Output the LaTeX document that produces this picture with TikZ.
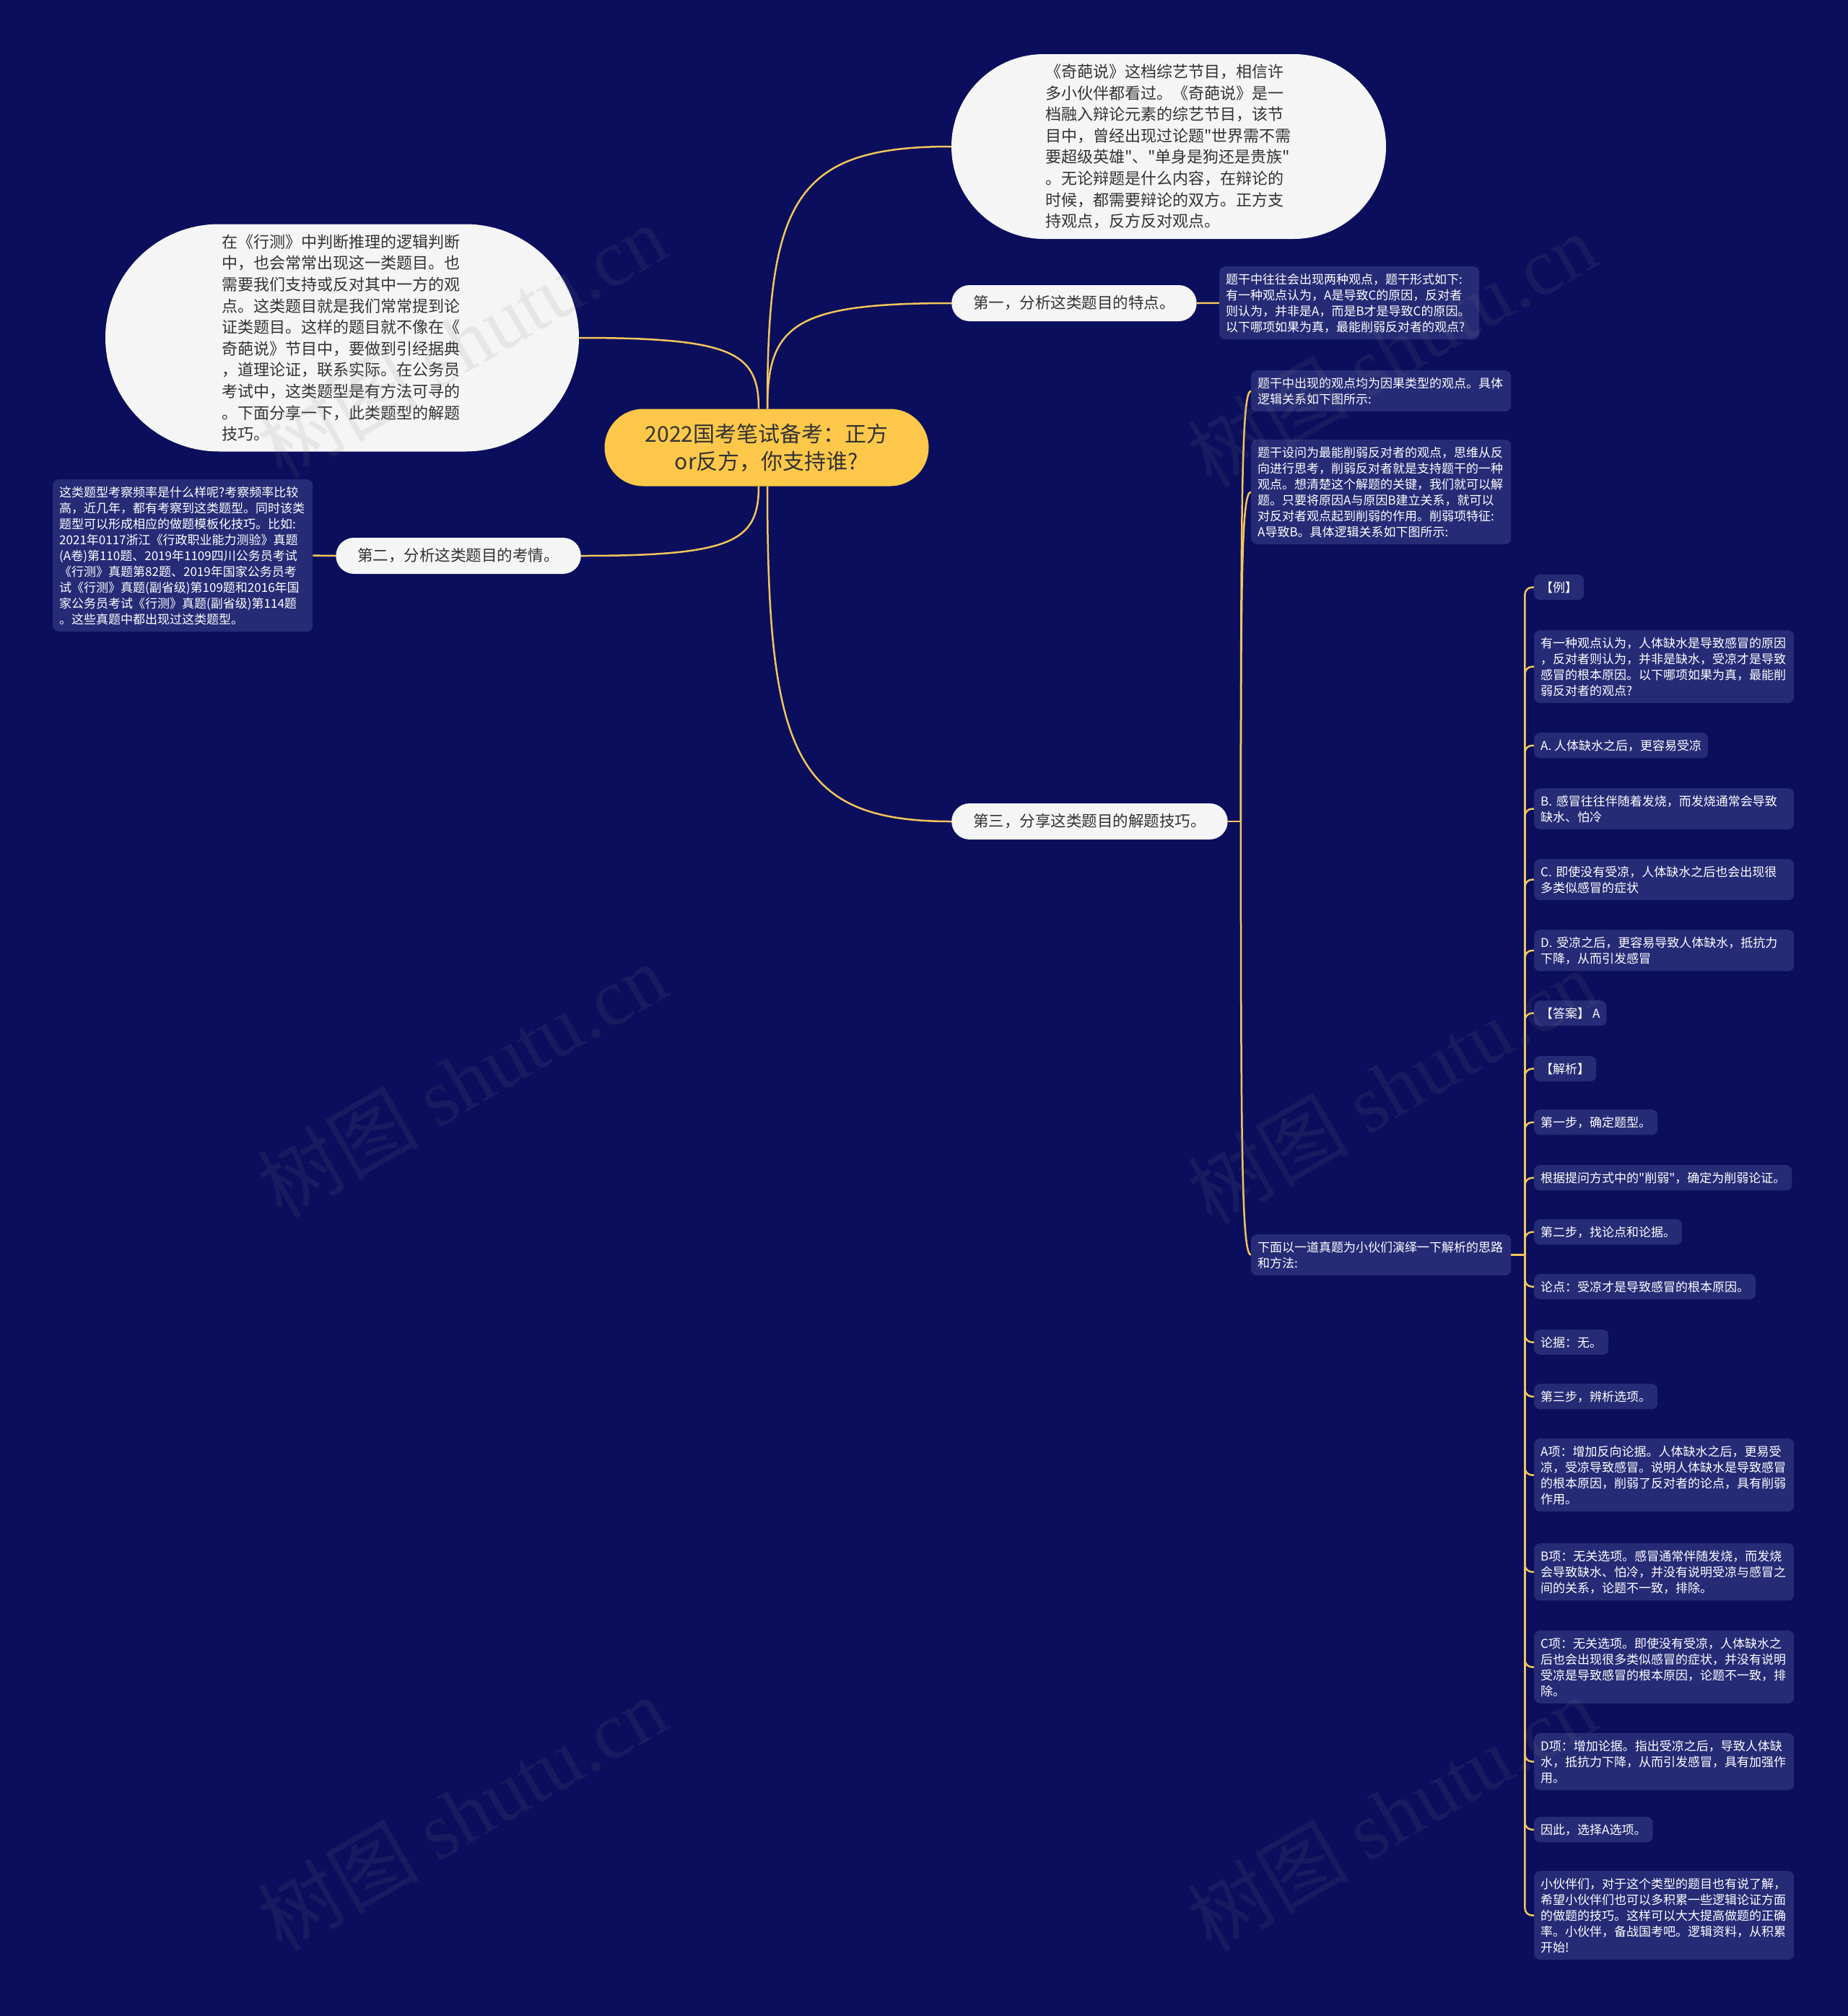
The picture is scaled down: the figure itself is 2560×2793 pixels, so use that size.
\documentclass[tikz,border=0pt]{standalone}
\usepackage{fontspec}
\setmainfont{Noto Sans CJK SC}[Ligatures=TeXOff]
\newfontfamily\wmlat{Liberation Serif}
\usetikzlibrary{calc}
\pgfdeclarelayer{back}
\pgfsetlayers{back,main}
\definecolor{bgc}{HTML}{0A0E5C}
\definecolor{leafc}{HTML}{262B76}
\definecolor{lnc}{HTML}{F3C65A}
\definecolor{rootc}{HTML}{FDC84A}
\definecolor{pillc}{HTML}{F5F5F5}
\definecolor{ptxt}{HTML}{333333}
\definecolor{wmc}{HTML}{808080}
\tikzset{
  leafbox/.style={fill=leafc, rounded corners=8pt, text=white, font=\fontsize{17}{22}\selectfont, inner xsep=9pt, inner ysep=9.5pt, align=left, anchor=north west},
  leafwide/.style={leafbox, text width=342pt},
  pillbox/.style={fill=pillc, text=ptxt, font=\fontsize{21.5}{26}\selectfont, rounded corners=25pt, minimum height=50pt, inner xsep=30pt, inner ysep=0pt},
  bubble/.style={fill=pillc, text=ptxt, font=\fontsize{22}{29.6}\selectfont, align=left, inner sep=0pt},
  conn/.style={draw=lnc, line width=2.5pt},
  mm/.style={to path={.. controls ($(\tikztostart)!0.8!(\tikztostart|-\tikztotarget)$) and ($(\tikztostart|-\tikztotarget)!0.15!(\tikztotarget)$) .. (\tikztotarget)}},
  elbow/.style={conn, rounded corners=10pt},
  wm/.style={text=wmc, opacity=0.12, font=\fontsize{112}{116}\selectfont, rotate=30}
}
\begin{document}
\begin{tikzpicture}[x=1pt, y=-1pt]
\useasboundingbox (0,0) rectangle (2560,2793);
\begin{pgfonlayer}{back}
\fill[bgc] (0,0) rectangle (2560,2793);
\end{pgfonlayer}

% root
\node[fill=rootc, text=ptxt, font=\fontsize{30}{38}\selectfont, align=center, minimum width=449pt, minimum height=107pt, rounded corners=53.5pt, inner sep=0pt] (root) at (1062,620) {2022国考笔试备考：正方\\or反方，你支持谁?};

% big bubbles
\node[bubble, text width=342pt, minimum width=602pt, minimum height=256pt, rounded corners=128pt] (top) at (1619,203) {《奇葩说》这档综艺节目，相信许\\多小伙伴都看过。《奇葩说》是一\\档融入辩论元素的综艺节目，该节\\目中，曾经出现过论题"世界需不需\\要超级英雄"、"单身是狗还是贵族"\\。无论辩题是什么内容，在辩论的\\时候，都需要辩论的双方。正方支\\持观点，反方反对观点。};
\node[bubble, text width=334pt, minimum width=656pt, minimum height=315pt, rounded corners=157.5pt] (lft) at (474,468) {在《行测》中判断推理的逻辑判断\\中，也会常常出现这一类题目。也\\需要我们支持或反对其中一方的观\\点。这类题目就是我们常常提到论\\证类题目。这样的题目就不像在《\\奇葩说》节目中，要做到引经据典\\，道理论证，联系实际。在公务员\\考试中，这类题型是有方法可寻的\\。下面分享一下，此类题型的解题\\技巧。};

% level 1 pills
\node[pillbox, anchor=west] (n1) at (1318,420) {第一，分析这类题目的特点。};
\node[pillbox, anchor=east] (n2) at (805,770) {第二，分析这类题目的考情。};
\node[pillbox, anchor=west] (n3) at (1318,1138) {第三，分享这类题目的解题技巧。};

% leaves
\node[leafwide] (l1) at (1689,369) {题干中往往会出现两种观点，题干形式如下:\\有一种观点认为，A是导致C的原因，反对者\\则认为，并非是A，而是B才是导致C的原因。\\以下哪项如果为真，最能削弱反对者的观点?};
\node[leafwide] (l2) at (73,664) {这类题型考察频率是什么样呢?考察频率比较\\高，近几年，都有考察到这类题型。同时该类\\题型可以形成相应的做题模板化技巧。比如:\\2021年0117浙江《行政职业能力测验》真题\\(A卷)第110题、2019年1109四川公务员考试\\《行测》真题第82题、2019年国家公务员考\\试《行测》真题(副省级)第109题和2016年国\\家公务员考试《行测》真题(副省级)第114题\\。这些真题中都出现过这类题型。};
\node[leafwide] (l3a) at (1733,513) {题干中出现的观点均为因果类型的观点。具体\\逻辑关系如下图所示:};
\node[leafwide] (l3b) at (1733,609) {题干设问为最能削弱反对者的观点，思维从反\\向进行思考，削弱反对者就是支持题干的一种\\观点。想清楚这个解题的关键，我们就可以解\\题。只要将原因A与原因B建立关系，就可以\\对反对者观点起到削弱的作用。削弱项特征:\\A导致B。具体逻辑关系如下图所示:};
\node[leafwide] (l3c) at (1733,1710) {下面以一道真题为小伙们演绎一下解析的思路\\和方法:};

\node[leafbox] (r1) at (2125,796) {【例】};
\node[leafwide] (r2) at (2125,873) {有一种观点认为，人体缺水是导致感冒的原因\\，反对者则认为，并非是缺水，受凉才是导致\\感冒的根本原因。以下哪项如果为真，最能削\\弱反对者的观点?};
\node[leafbox] (r3) at (2125,1015) {A. 人体缺水之后，更容易受凉};
\node[leafwide] (r4) at (2125,1092) {B. 感冒往往伴随着发烧，而发烧通常会导致\\缺水、怕冷};
\node[leafwide] (r5) at (2125,1190) {C. 即使没有受凉，人体缺水之后也会出现很\\多类似感冒的症状};
\node[leafwide] (r6) at (2125,1288) {D. 受凉之后，更容易导致人体缺水，抵抗力\\下降，从而引发感冒};
\node[leafbox] (r7) at (2125,1386) {【答案】 A};
\node[leafbox] (r8) at (2125,1463) {【解析】};
\node[leafbox] (r9) at (2125,1537) {第一步，确定题型。};
\node[leafbox] (r10) at (2125,1614) {根据提问方式中的"削弱"，确定为削弱论证。};
\node[leafbox] (r11) at (2125,1689) {第二步，找论点和论据。};
\node[leafbox] (r12) at (2125,1765) {论点：受凉才是导致感冒的根本原因。};
\node[leafbox] (r13) at (2125,1842) {论据：无。};
\node[leafbox] (r14) at (2125,1917) {第三步，辨析选项。};
\node[leafwide] (r15) at (2125,1993) {A项：增加反向论据。人体缺水之后，更易受\\凉，受凉导致感冒。说明人体缺水是导致感冒\\的根本原因，削弱了反对者的论点，具有削弱\\作用。};
\node[leafwide] (r16) at (2125,2138) {B项：无关选项。感冒通常伴随发烧，而发烧\\会导致缺水、怕冷，并没有说明受凉与感冒之\\间的关系，论题不一致，排除。};
\node[leafwide] (r17) at (2125,2259) {C项：无关选项。即使没有受凉，人体缺水之\\后也会出现很多类似感冒的症状，并没有说明\\受凉是导致感冒的根本原因，论题不一致，排\\除。};
\node[leafwide] (r18) at (2125,2401) {D项：增加论据。指出受凉之后，导致人体缺\\水，抵抗力下降，从而引发感冒，具有加强作\\用。};
\node[leafbox] (r19) at (2125,2517) {因此，选择A选项。};
\node[leafwide] (r20) at (2125,2592) {小伙伴们，对于这个类型的题目也有说了解，\\希望小伙伴们也可以多积累一些逻辑论证方面\\的做题的技巧。这样可以大大提高做题的正确\\率。小伙伴，备战国考吧。逻辑资料，从积累\\开始!};

% connector anchor points
\coordinate (rt1) at ([xshift=1pt]root.north);
\coordinate (rt2) at ([xshift=-11pt]root.north);
\coordinate (rb1) at ([xshift=1pt]root.south);
\coordinate (rb2) at ([xshift=-11pt]root.south);
\coordinate (p3) at ([xshift=18pt]n3.east);
\coordinate (pr) at ([xshift=19pt]l3c.east);

\begin{pgfonlayer}{back}
\draw[conn, mm] (rt1) to (top.west);
\draw[conn, mm] (rt1) to (n1.west);
\draw[conn, mm] (rt2) to (lft.east);
\draw[conn, mm] (rb2) to (n2.east);
\draw[conn, mm] (rb1) to (n3.west);
\draw[conn] (n1.east) -- (l1.west);
\draw[conn] (n2.west) -- (l2.east);
\draw[conn] (n3.east) -- (p3);
\draw[conn, mm] (p3) to (l3a.west);
\draw[conn, mm] (p3) to (l3b.west);
\draw[conn, mm] (p3) to (l3c.west);
\draw[conn] (l3c.east) -- (pr);
\foreach \k in {r1,r2,r3,r4,r5,r6,r7,r8,r9,r10,r11,r12,r13,r14,r15,r16,r17,r18,r19,r20}
  \draw[elbow] (pr) |- (\k.west);
\end{pgfonlayer}

% watermarks
\node[wm] (w1) at (640,472) {树图 {\wmlat shutu.cn}};
\node[wm] (w2) at (640,1496) {树图 {\wmlat shutu.cn}};
\node[wm] (w3) at (640,2512) {树图 {\wmlat shutu.cn}};
\node[wm] (w4) at (1928,484) {树图 {\wmlat shutu.cn}};
\node[wm] (w5) at (1928,1505) {树图 {\wmlat shutu.cn}};
\node[wm] (w6) at (1928,2512) {树图 {\wmlat shutu.cn}};
\end{tikzpicture}
\end{document}
